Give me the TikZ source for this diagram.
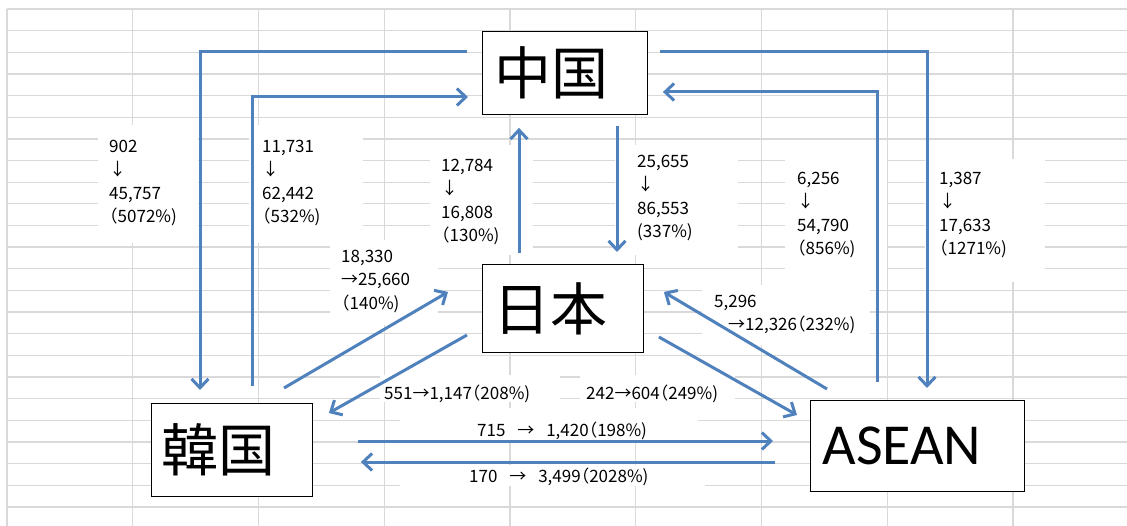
\documentclass[tikz,border=0pt]{standalone}
\usepackage{fontspec}
\newfontfamily\cjk{Noto Sans CJK JP}
\newfontfamily\lab{Noto Sans CJK JP}[RawFeature=+halt]
\newfontfamily\carl{Carlito}
\usetikzlibrary{arrows.meta,calc}
\definecolor{arrowblue}{HTML}{4F81BD}
\definecolor{gridgray}{HTML}{D9D9D9}
\begin{document}
\begin{tikzpicture}[x=1pt,y=-1pt,
  gridline/.style={draw=gridgray, line width=1.3pt},
  gap/.style={fill=white},
  box/.style={draw=black, line width=0.9pt, fill=white, inner sep=0pt, anchor=north west},
  big/.style={font=\cjk\fontsize{57}{60}\selectfont},
  bigl/.style={font=\carl\fontsize{58}{60}\selectfont},
  arr/.style={draw=arrowblue, line width=3pt, -{Straight Barb[length=9pt,width=17pt]}},
  lab/.style={font=\lab\fontsize{17}{23.3}\selectfont, align=left, inner sep=0pt, anchor=north west}]
\useasboundingbox[fill=white] (0,0) rectangle (1127,526);
% grid
\foreach \k in {0,...,23} \draw[gridline] (7,{9+21.65*\k}) -- (1127,{9+21.65*\k});
\foreach \k in {0,...,8} \draw[gridline] ({7+125.75*\k},9) -- ({7+125.75*\k},526);
% white text-box areas
\fill[gap] (98,125) rectangle (198,243);
\fill[gap] (249,125) rectangle (363,243);
\fill[gap] (430,145) rectangle (533,255);
\fill[gap] (615,145) rectangle (738,255);
\fill[gap] (785,159) rectangle (887,282);
\fill[gap] (925,159) rectangle (1045,282);
\fill[gap] (330,240) rectangle (438,325);
\fill[gap] (702,285) rectangle (870,345);
\fill[gap] (380,375) rectangle (560,402);
\fill[gap] (580,375) rectangle (735,402);
\fill[gap] (400,408) rectangle (698,440);
\fill[gap] (400,465) rectangle (705,486);
% boxes
\node[box, big, minimum width=165pt, minimum height=83pt] (cn) at (482,31) {\makebox[165pt][l]{\hspace*{12pt}中国}};
\node[box, big, minimum width=161pt, minimum height=88pt] (jp) at (482,264) {\makebox[161pt][l]{\hspace*{11pt}日本}};
\node[box, big, minimum width=161pt, minimum height=93pt] (kr) at (151,403) {\makebox[161pt][l]{\hspace*{10pt}韓国}};
\node[box, bigl, minimum width=214pt, minimum height=91pt] (as) at (810,400) {\makebox[214pt][l]{\hspace*{12pt}ASEAN}};
% connectors
\draw[arr] ($(cn.north west)+(-15,21)$) -| ($(kr.north west)+(49,-13)$);
\draw[arr] ($(kr.north west)+(101,-17)$) |- ($(cn.north west)+(-14,66)$);
\draw[arr] ($(cn.north east)+(12,21)$) -| ($(as.north west)+(117,-12)$);
\draw[arr] ($(as.north west)+(67,-18)$) |- ($(cn.north east)+(15,61)$);
\draw[arr] ($(jp.north west)+(37,-11)$) -- ($(cn.south west)+(37,13)$);
\draw[arr] ($(cn.south west)+(135,11)$) -- ($(jp.north west)+(135,-12)$);
\draw[arr] ($(kr.north west)+(133,-15)$) -- ($(jp.north west)+(-34,28)$);
\draw[arr] ($(jp.north west)+(-15,71)$) -- ($(kr.north east)+(16,10)$);
\draw[arr] ($(jp.north east)+(15,73)$) -- ($(as.north west)+(-13,15)$);
\draw[arr] ($(as.north west)+(17,-11)$) -- ($(jp.north east)+(20,28)$);
\draw[arr] ($(kr.north east)+(45,38)$) -- ($(as.north west)+(-37,41)$);
\draw[arr] ($(as.north west)+(-35,62)$) -- ($(kr.north east)+(48,59)$);
% labels
\node[lab] (l1) at (109,140) {902\\↓\\45,757\\（5072\%)};
\node[lab] (l2) at (262,140) {11,731\\↓\\62,442\\（532\%)};
\node[lab] (l5) at (441,159) {12,784\\↓\\16,808\\（130\%)};
\node[lab] (l6) at (637,155) {25,655\\↓\\86,553\\(337\%)};
\node[lab] (l3) at (797,172) {6,256\\↓\\54,790\\（856\%)};
\node[lab] (l4) at (939,172) {1,387\\↓\\17,633\\（1271\%)};
\node[lab] (l7) at (341,250) {18,330\\→25,660\\（140\%)};
\node[lab] (l10) at (714,295) {5,296\\\hspace*{14pt}→12,326（232\%)};
\node[lab] (l8) at (384,385) {551→1,147（208\%)};
\node[lab] (l9) at (586,385) {242→604（249\%)};
\node[lab] (l11) at (477,422) {715\hspace{0.7em}→\hspace{0.7em}1,420（198\%)};
\node[lab] (l12) at (469,468) {170\hspace{0.7em}→\hspace{0.7em}3,499（2028\%)};
\end{tikzpicture}
\end{document}
